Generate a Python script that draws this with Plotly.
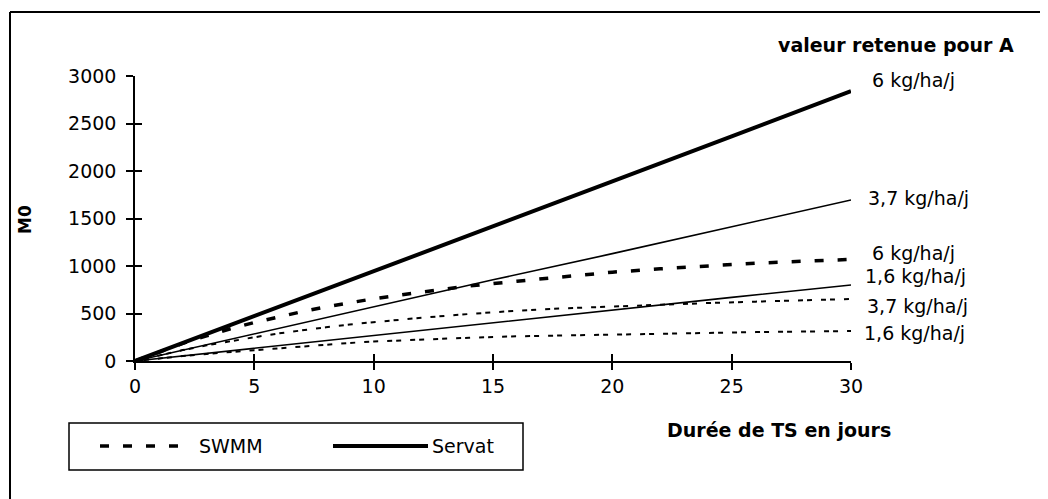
import plotly.graph_objects as go

# duree de TS (jours) et masses M0
jours = [0, 1, 2, 3, 4, 5, 6, 7, 8, 9, 10, 12, 14, 16, 18, 20, 22, 24, 26, 28, 30]
swmm_6 = [0, 95, 185, 265, 340, 405, 465, 520, 570, 615, 655, 725, 790, 840, 890, 935, 970, 1000, 1030, 1050, 1070]
swmm_37 = [0, 60, 115, 165, 210, 250, 290, 325, 355, 385, 410, 455, 495, 530, 555, 575, 595, 610, 625, 640, 653]
swmm_16 = [0, 28, 52, 75, 95, 115, 135, 155, 172, 190, 205, 228, 245, 260, 270, 280, 290, 297, 304, 310, 316]

jours_servat = [0, 5, 10, 15, 20, 25, 30]
servat_6 = [0, 470, 945, 1420, 1890, 2365, 2840]
servat_37 = [0, 285, 570, 855, 1130, 1410, 1695]
servat_16 = [0, 135, 270, 405, 535, 670, 800]

x_ticks = [0, 5, 10, 15, 20, 25, 30]
y_ticks = [0, 500, 1000, 1500, 2000, 2500, 3000]

FONT = "DejaVu Sans"
OFF = 8  # page body margin of the browser
W, H = 1048 - OFF, 499 - OFF
L, T = 135 - OFF, 76 - OFF
R, B = 1048 - 851, 499 - 361
PW, PH = W - L - R, H - T - B


# reference pixel -> paper coords
def px(x):
    return (x - OFF - L) / PW


def py(y):
    return (H - B - (y - OFF)) / PH


fig = go.Figure()

thin_dash = "5px,4px,5px,9px"
fig.add_trace(go.Scatter(x=jours, y=swmm_6, mode="lines", showlegend=False,
                         line=dict(color="black", width=3.5, dash="9px,14px")))
fig.add_trace(go.Scatter(x=jours, y=swmm_37, mode="lines", showlegend=False,
                         line=dict(color="black", width=2, dash=thin_dash)))
fig.add_trace(go.Scatter(x=jours, y=swmm_16, mode="lines", showlegend=False,
                         line=dict(color="black", width=2, dash=thin_dash)))
fig.add_trace(go.Scatter(x=jours_servat, y=servat_6, mode="lines", showlegend=False,
                         line=dict(color="black", width=4)))
fig.add_trace(go.Scatter(x=jours_servat, y=servat_37, mode="lines", showlegend=False,
                         line=dict(color="black", width=1.6)))
fig.add_trace(go.Scatter(x=jours_servat, y=servat_16, mode="lines", showlegend=False,
                         line=dict(color="black", width=1.6)))

axis_common = dict(showgrid=False, zeroline=False, showline=True, linecolor="black",
                   linewidth=1.5, tickcolor="black", ticklen=7, tickwidth=1.5)

# overlay axes give the crossing tick marks
fig.update_layout(
    width=W, height=H,
    margin=dict(l=L, r=R, t=T, b=B),
    paper_bgcolor="white", plot_bgcolor="white",
    font=dict(family=FONT, size=19, color="black"),
    xaxis=dict(range=[0, 30], tickvals=x_ticks, ticks="outside", **axis_common),
    yaxis=dict(range=[0, 3000], tickvals=y_ticks, ticks="outside", ticklabelstandoff=6, **axis_common),
    xaxis2=dict(range=[0, 30], tickvals=x_ticks, ticks="inside", overlaying="x",
                showticklabels=False, **axis_common),
    yaxis2=dict(range=[0, 3000], tickvals=y_ticks, ticks="inside", overlaying="y",
                showticklabels=False, **axis_common),
)
fig.add_trace(go.Scatter(x=[], y=[], xaxis="x2", yaxis="y2", showlegend=False))

labels = [
    ("valeur retenue pour A", 776, 45, True),
    ("6 kg/ha/j", 870, 80, False),
    ("3,7 kg/ha/j", 866, 198, False),
    ("6 kg/ha/j", 870, 253, False),
    ("1,6 kg/ha/j", 863, 276, False),
    ("3,7 kg/ha/j", 865, 306, False),
    ("1,6 kg/ha/j", 862, 333, False),
]
for txt, x, y, bold in labels:
    fig.add_annotation(x=px(x), y=py(y), xref="paper", yref="paper", showarrow=False,
                       text="<b>%s</b>" % txt if bold else txt,
                       xanchor="left", yanchor="middle", font=dict(size=19))

fig.add_annotation(x=px(779), y=py(430), xref="paper", yref="paper", showarrow=False,
                   text="<b>Durée de TS en jours</b>", xanchor="center", yanchor="middle")
fig.add_annotation(x=px(25), y=py(220), xref="paper", yref="paper", showarrow=False,
                   text="<b>M0</b>", textangle=-90, xanchor="center", yanchor="middle",
                   font=dict(size=17))

# outer frame (left and top only visible)
fig.add_shape(type="line", xref="paper", yref="paper", x0=px(10), x1=px(10), y0=py(12), y1=py(510),
              line=dict(color="black", width=2))
fig.add_shape(type="line", xref="paper", yref="paper", x0=px(10), x1=px(1060), y0=py(12), y1=py(12),
              line=dict(color="black", width=2))

# legend box
fig.add_shape(type="rect", xref="paper", yref="paper", x0=px(69), x1=px(523), y0=py(423), y1=py(470),
              line=dict(color="black", width=1.5))
fig.add_shape(type="line", xref="paper", yref="paper", x0=px(100), x1=px(192), y0=py(446), y1=py(446),
              line=dict(color="black", width=3.5, dash="9px,14px"))
fig.add_shape(type="line", xref="paper", yref="paper", x0=px(333), x1=px(428), y0=py(446), y1=py(446),
              line=dict(color="black", width=4))
fig.add_annotation(x=px(197), y=py(446), xref="paper", yref="paper", showarrow=False,
                   text="SWMM", xanchor="left", yanchor="middle")
fig.add_annotation(x=px(430), y=py(446), xref="paper", yref="paper", showarrow=False,
                   text="Servat", xanchor="left", yanchor="middle")

fig.write_html("out.html")
